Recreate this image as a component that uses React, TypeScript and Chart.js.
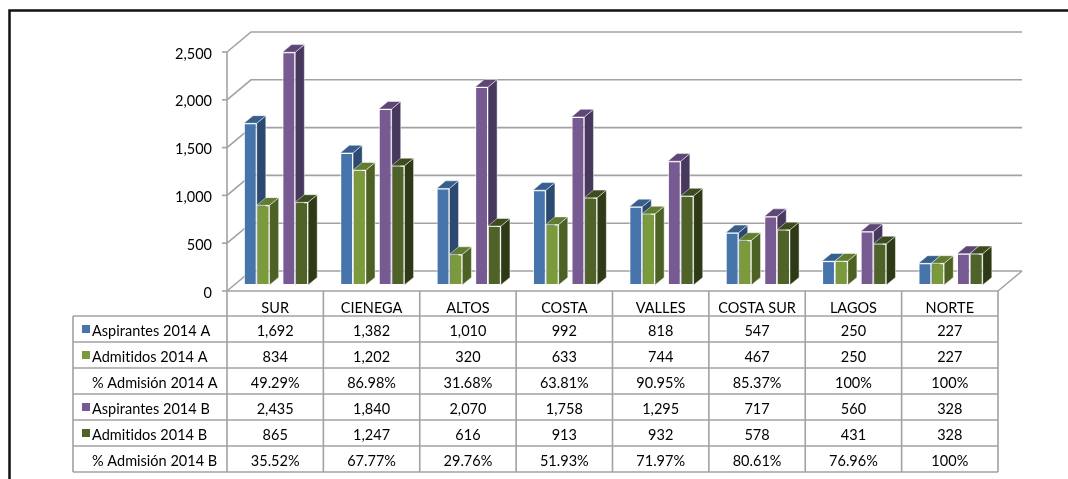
import React, { useEffect, useRef } from 'react';
import { Chart, registerables } from 'chart.js';

Chart.register(...registerables);

// ---------------- data ----------------
const categories = ['SUR', 'CIENEGA', 'ALTOS', 'COSTA', 'VALLES', 'COSTA SUR', 'LAGOS', 'NORTE'];
const aspirantesA = [1692, 1382, 1010, 992, 818, 547, 250, 227];
const admitidosA = [834, 1202, 320, 633, 744, 467, 250, 227];
const pctAdmisionA = [49.29, 86.98, 31.68, 63.81, 90.95, 85.37, 100, 100];
const aspirantesB = [2435, 1840, 2070, 1758, 1295, 717, 560, 328];
const admitidosB = [865, 1247, 616, 913, 932, 578, 431, 328];
const pctAdmisionB = [35.52, 67.77, 29.76, 51.93, 71.97, 80.61, 76.96, 100];
const yTicks = [0, 500, 1000, 1500, 2000, 2500];
const seriesLabels = [
  'Aspirantes 2014 A',
  'Admitidos 2014 A',
  '% Admisión 2014 A',
  'Aspirantes 2014 B',
  'Admitidos 2014 B',
  '% Admisión 2014 B',
];

// ---------------- styles ----------------
const W = 1068;
const H = 479;
const PAD = { left: 227, right: W - 998, top: 52, bottom: H - 291 };
const DX = 24; // full depth shift x
const DY = 20; // full depth shift y
const BAR_D0 = 0.3;
const BAR_D1 = 0.68;
const GRID = '#a2a2a2';
const FONT = '14.5px Lato, "Open Sans", sans-serif';
const TEXT = '#000';
const LABEL_LEFT = 73;
const ROW_TOP = 316;
const ROW_H = 26;

const FRONT = ['#4674ab', '#7a9a3c', null, '#775a92', '#4f6228', null];
const TOPC = ['#375f8e', '#617c2f', null, '#5e4677', '#3d4c1e', null];
const SIDE = ['#2c4a70', '#4d6125', null, '#48385e', '#2e3a16', null];

const fmtNum = (v: number) => v.toLocaleString('en-US');
const fmtPct = (v: number) => (v === 100 ? '100%' : v.toFixed(2) + '%');

const tableRows: string[][] = [
  aspirantesA.map(fmtNum),
  admitidosA.map(fmtNum),
  pctAdmisionA.map(fmtPct),
  aspirantesB.map(fmtNum),
  admitidosB.map(fmtNum),
  pctAdmisionB.map(fmtPct),
];

function poly(ctx: CanvasRenderingContext2D, pts: number[][], fill: string) {
  ctx.beginPath();
  ctx.moveTo(pts[0][0], pts[0][1]);
  for (let i = 1; i < pts.length; i++) ctx.lineTo(pts[i][0], pts[i][1]);
  ctx.closePath();
  ctx.fillStyle = fill;
  ctx.fill();
  ctx.strokeStyle = 'rgba(255,255,255,0.6)';
  ctx.lineWidth = 0.8;
  ctx.stroke();
}

const threeDPlugin = {
  id: 'threeD',
  beforeDraw(chart: any) {
    const ctx: CanvasRenderingContext2D = chart.ctx;
    const xs = chart.scales.x;
    const ys = chart.scales.y;
    const L = chart.chartArea.left;
    const R = chart.chartArea.right;
    const y0 = ys.getPixelForValue(0);
    const n = categories.length;
    const cw = (R - L) / n;
    ctx.save();
    ctx.fillStyle = '#fff';
    ctx.fillRect(0, 0, W, H);

    // outer frame
    ctx.strokeStyle = '#111';
    ctx.lineWidth = 2.5;
    ctx.beginPath();
    ctx.moveTo(9.5, H + 5);
    ctx.lineTo(9.5, 10.5);
    ctx.lineTo(W + 5, 10.5);
    ctx.stroke();

    // back wall gridlines + left wall diagonals + ticks + labels
    ctx.strokeStyle = GRID;
    ctx.lineWidth = 1.6;
    ctx.font = FONT;
    try { (ctx as any).letterSpacing = '0.01px'; } catch (e) { /* ignore */ }
    ctx.fillStyle = TEXT;
    ctx.textAlign = 'right';
    ctx.textBaseline = 'middle';
    for (const v of yTicks) {
      const py = ys.getPixelForValue(v);
      ctx.beginPath();
      ctx.moveTo(L, py);
      ctx.lineTo(L + DX, py - DY);
      ctx.lineTo(R + DX, py - DY);
      ctx.stroke();
      ctx.beginPath();
      ctx.moveTo(L - 5, py);
      ctx.lineTo(L, py);
      ctx.stroke();
      ctx.fillText(fmtNum(v), L - 15, py + 2);
    }
    // front vertical axis
    ctx.beginPath();
    ctx.moveTo(L, ys.getPixelForValue(yTicks[yTicks.length - 1]));
    ctx.lineTo(L, y0);
    ctx.stroke();
    // floor right edge
    ctx.beginPath();
    ctx.moveTo(R, y0);
    ctx.lineTo(R + DX, y0 - DY);
    ctx.stroke();

    // data table
    const bottom = ROW_TOP + ROW_H * tableRows.length;
    ctx.beginPath();
    ctx.moveTo(L, y0);
    ctx.lineTo(R, y0);
    for (let k = 0; k <= n; k++) {
      const bx = L + k * cw;
      ctx.moveTo(bx, y0);
      ctx.lineTo(bx, bottom);
    }
    for (let r = 0; r <= tableRows.length; r++) {
      const by = ROW_TOP + r * ROW_H;
      ctx.moveTo(LABEL_LEFT, by);
      ctx.lineTo(R, by);
    }
    ctx.moveTo(LABEL_LEFT, ROW_TOP);
    ctx.lineTo(LABEL_LEFT, bottom);
    ctx.stroke();

    ctx.textAlign = 'center';
    ctx.textBaseline = 'alphabetic';
    ctx.fillStyle = TEXT;
    for (let j = 0; j < n; j++) {
      const cx = xs.getPixelForValue(j);
      ctx.fillText(categories[j], cx, y0 + 21.5);
      for (let r = 0; r < tableRows.length; r++) {
        ctx.fillText(tableRows[r][j], cx, ROW_TOP + r * ROW_H + 20);
      }
    }
    ctx.textAlign = 'left';
    for (let r = 0; r < seriesLabels.length; r++) {
      const top = ROW_TOP + r * ROW_H;
      if (FRONT[r]) {
        ctx.fillStyle = FRONT[r] as string;
        ctx.fillRect(82, top + 9, 8, 8);
      }
      ctx.fillStyle = TEXT;
      ctx.fillText(seriesLabels[r], 92, top + 20);
    }
    ctx.restore();
  },
  beforeDatasetsDraw(chart: any) {
    const ctx: CanvasRenderingContext2D = chart.ctx;
    const SX = (BAR_D1 - BAR_D0) * DX;
    const SY = (BAR_D1 - BAR_D0) * DY;
    ctx.save();
    ctx.translate(BAR_D0 * DX, -BAR_D0 * DY);
    for (let j = 0; j < categories.length; j++) {
      for (let i = 0; i < chart.data.datasets.length; i++) {
        const raw = chart.data.datasets[i].data[j];
        if (raw == null || !FRONT[i]) continue;
        const el = chart.getDatasetMeta(i).data[j];
        const p = el.getProps(['x', 'y', 'base', 'width'], true);
        const xl = p.x - p.width / 2;
        const xr = p.x + p.width / 2;
        const top = p.y;
        const base = p.base;
        poly(ctx, [[xr, top], [xr + SX, top - SY], [xr + SX, base - SY], [xr, base]], SIDE[i] as string);
        poly(ctx, [[xl, top], [xr, top], [xr + SX, top - SY], [xl + SX, top - SY]], TOPC[i] as string);
      }
    }
    // translation kept for the library's own front faces
  },
  afterDatasetsDraw(chart: any) {
    chart.ctx.restore();
  },
};

export default function App() {
  const ref = useRef<HTMLCanvasElement | null>(null);
  useEffect(() => {
    if (!ref.current) return;
    const series = [aspirantesA, admitidosA, pctAdmisionA, aspirantesB, admitidosB, pctAdmisionB];
    const chart = new Chart(ref.current, {
      type: 'bar',
      data: {
        labels: categories,
        datasets: series.map((s, i) => ({
          label: seriesLabels[i],
          data: FRONT[i] ? s : s.map(() => null),
          backgroundColor: FRONT[i] || 'rgba(0,0,0,0)',
          borderColor: 'rgba(255,255,255,0.75)',
          borderWidth: 1,
          borderSkipped: false,
          clip: false as any,
          barPercentage: 1,
          categoryPercentage: 0.8,
        })),
      },
      plugins: [threeDPlugin],
      options: {
        responsive: false,
        animation: false,
        devicePixelRatio: 1,
        layout: { padding: PAD },
        plugins: { legend: { display: false }, tooltip: { enabled: false } },
        scales: {
          x: { display: false },
          y: { display: false, min: 0, max: 2500 },
        },
      },
    });
    return () => chart.destroy();
  }, []);
  return (
    <div style={{ position: 'absolute', left: 0, top: 0, width: W, height: H }}>
      <canvas ref={ref} width={W} height={H} style={{ width: W, height: H, display: 'block' }} />
    </div>
  );
}
